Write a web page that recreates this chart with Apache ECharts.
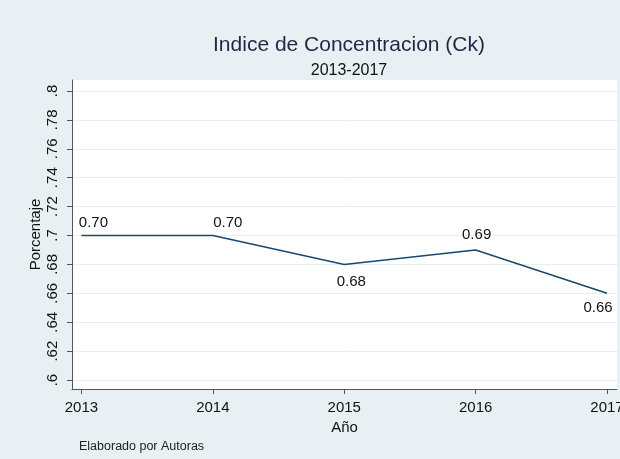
<!DOCTYPE html>
<html>
<head>
<meta charset="utf-8">
<script src="https://cdn.jsdelivr.net/npm/echarts@6/dist/echarts.min.js"></script>
<style>
  html, body { margin: 0; padding: 0; background: #e9f0f3; }
  #chart { width: 620px; height: 459px; }
</style>
</head>
<body>
<div id="chart"></div>
<script>
// datos
const years = [2013, 2014, 2015, 2016, 2017];
const ck = [0.70, 0.70, 0.68, 0.69, 0.66];
const yTicks = [0.6, 0.62, 0.64, 0.66, 0.68, 0.7, 0.72, 0.74, 0.76, 0.78, 0.8];

// posicion de cada etiqueta (arriba / abajo, como en Stata)
const labelPos = ['top', 'top', 'bottom', 'top', 'bottom'];
const labelOff = [[12, 0], [15, 0], [7, 5], [1, -3], [-9, 2]];

const font = 'Liberation Sans, Arial, sans-serif';

const myChart = echarts.init(document.getElementById('chart'));

const option = {
  backgroundColor: '#e9f0f3',
  animation: false,
  title: [
    {
      text: 'Indice de Concentracion (Ck)',
      left: 344, top: 30, textAlign: 'center',
      textStyle: { fontFamily: font, fontSize: 21, fontWeight: 'normal', color: '#1e2a44' }
    },
    {
      text: '2013-2017',
      left: 344, top: 58, textAlign: 'center',
      textStyle: { fontFamily: font, fontSize: 16, fontWeight: 'normal', color: '#111' }
    },
    {
      text: 'Elaborado por Autoras',
      left: 74, top: 435,
      textStyle: { fontFamily: font, fontSize: 12.5, fontWeight: 'normal', color: '#222' }
    }
  ],
  grid: {
    left: 72, right: 3, top: 80, bottom: 70,
    outerBoundsMode: 'none',
    show: true, backgroundColor: '#fff', borderWidth: 0
  },
  xAxis: {
    type: 'value',
    min: 2012.928, max: 2017.076,
    name: 'Año', nameLocation: 'middle', nameGap: 25,
    nameTextStyle: { fontFamily: font, fontSize: 15, color: '#111' },
    axisLine: { show: true, lineStyle: { color: '#555', width: 1 } },
    axisTick: { show: true, length: 5, customValues: years, lineStyle: { color: '#555' } },
    axisLabel: {
      customValues: years, margin: 11,
      fontFamily: font, fontSize: 15, color: '#111',
      formatter: v => String(v)
    },
    splitLine: { show: false }
  },
  yAxis: {
    type: 'value',
    min: 0.5938, max: 0.8076,
    name: 'Porcentaje', nameLocation: 'middle', nameGap: 29,
    nameMoveOverlap: false,
    nameTextStyle: { fontFamily: font, fontSize: 15, color: '#111' },
    axisLine: { show: true, lineStyle: { color: '#555', width: 1 } },
    axisTick: { show: true, length: 5, customValues: yTicks, lineStyle: { color: '#555' } },
    axisLabel: {
      customValues: yTicks, rotate: 90, margin: 12,
      fontFamily: font, fontSize: 15, color: '#111',
      formatter: v => String(+v.toFixed(2)).replace(/^0\./, '.')
    },
    splitLine: { show: true, lineStyle: { color: '#e8eff2', width: 1 } }
  },
  series: [
    {
      type: 'line',
      data: years.map((y, i) => ({
        value: [y, ck[i]],
        label: { position: labelPos[i], offset: labelOff[i] }
      })),
      showSymbol: true,
      symbol: 'circle',
      symbolSize: 0,
      lineStyle: { color: '#1a476f', width: 1.5 },
      itemStyle: { color: '#1a476f' },
      label: {
        show: true,
        fontFamily: font, fontSize: 15, color: '#111',
        formatter: p => p.value[1].toFixed(2)
      }
    }
  ]
};

myChart.setOption(option);
window.addEventListener('resize', () => {
  myChart.resize();
});
</script>
</body>
</html>
